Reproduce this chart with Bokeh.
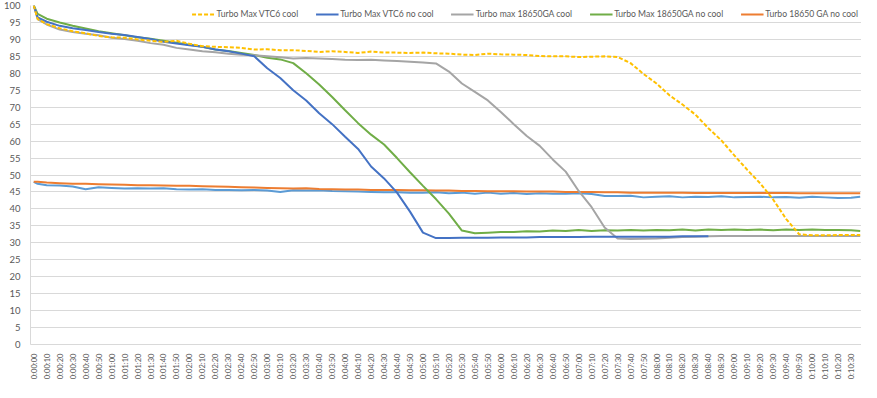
import math
from bokeh.plotting import figure
from bokeh.models import FixedTicker, Range1d, Legend, LegendItem
from bokeh.embed import file_html
from bokeh.resources import INLINE

nan = float("nan")

# elapsed time in seconds (category positions)
seconds = [0, 3] + list(range(10, 640, 10)) + [637]

# tick labels every 10 s
tick_seconds = list(range(0, 640, 10))
tick_labels = [f"0:{s // 60:02d}:{s % 60:02d}" for s in tick_seconds]

vtc6_cool = [100, 96.0,
             94.5, 93.3, 92.4, 91.8, 91.0, 90.6,
             90.5, 90.0, 89.6, 89.3, 89.6, 88.7,
             88.0, 87.8, 87.7, 87.5, 87.0, 87.1,
             86.8, 86.8, 86.6, 86.3, 86.5, 86.3,
             86.0, 86.4, 86.1, 86.1, 86.0, 86.1,
             85.9, 85.8, 85.5, 85.4, 85.8, 85.6,
             85.5, 85.4, 85.1, 85.0, 85.0, 84.8,
             84.9, 85.0, 84.8, 83.0, 79.8, 77.0,
             73.5, 70.8, 67.8, 63.8, 60.2, 55.8,
             51.5, 47.5, 42.7, 37.0, 32.5, 32.2,
             32.2, 32.3, 32.3, 32.3]

vtc6_no_cool = [100, 96.5,
                95.2, 94.0, 93.3, 92.8, 92.2, 91.7,
                91.3, 90.7, 90.1, 89.3, 88.8, 88.3,
                87.8, 87.0, 86.5, 85.8, 85.0, 81.5,
                78.6, 75.0, 72.0, 68.2, 65.0, 61.3,
                57.7, 52.5, 49.0, 44.8, 39.2, 33.0,
                31.4, 31.4, 31.5, 31.5, 31.5, 31.6,
                31.6, 31.6, 31.7, 31.7, 31.7, 31.7,
                31.8, 31.8, 31.8, 31.8, 31.8, 31.8,
                31.8, 31.9, 31.9, 31.9, nan, nan,
                nan, nan, nan, nan, nan, nan,
                nan, nan, nan, nan]

ga_cool = [100, 96.0,
           94.4, 92.9, 92.2, 91.7, 91.2, 90.5,
           90.1, 89.6, 88.9, 88.4, 87.5, 87.0,
           86.5, 86.2, 85.8, 85.5, 85.3, 85.0,
           84.7, 84.4, 84.5, 84.4, 84.2, 84.0,
           83.9, 84.0, 83.8, 83.6, 83.4, 83.2,
           82.9, 80.5, 77.0, 74.5, 72.0, 68.6,
           65.0, 61.5, 58.6, 54.6, 51.0, 45.3,
           40.5, 34.5, 31.3, 31.1, 31.2, 31.3,
           31.5, 31.7, 31.8, 31.9, 32.0, 32.0,
           32.0, 32.0, 32.0, 32.0, 32.0, 32.0,
           32.0, 32.0, 32.0, 32.0]

ga_no_cool = [100, 97.5,
              96.1, 95.0, 94.0, 93.2, 92.4, 91.8,
              91.2, 90.6, 90.2, 89.6, 89.0, 88.4,
              87.8, 87.0, 86.6, 86.0, 85.4, 84.6,
              84.1, 83.0, 80.0, 76.7, 73.0, 69.1,
              65.3, 61.9, 59.0, 55.0, 50.8, 46.8,
              42.9, 38.6, 33.6, 32.8, 33.0, 33.2,
              33.2, 33.4, 33.3, 33.6, 33.5, 33.8,
              33.5, 33.7, 33.6, 33.8, 33.6, 33.8,
              33.7, 33.9, 33.6, 33.9, 33.8, 33.9,
              33.8, 33.9, 33.7, 33.9, 33.8, 33.9,
              33.8, 33.8, 33.7, 33.5]

turbo_ga_no_cool = [48.0, 48.0,
                    47.8, 47.6, 47.4, 47.4, 47.3, 47.2,
                    47.1, 47.0, 47.0, 46.9, 46.8, 46.8,
                    46.7, 46.6, 46.5, 46.4, 46.3, 46.2,
                    46.1, 46.0, 46.1, 45.9, 45.8, 45.7,
                    45.7, 45.6, 45.6, 45.6, 45.5, 45.5,
                    45.4, 45.4, 45.3, 45.3, 45.2, 45.2,
                    45.2, 45.1, 45.1, 45.1, 45.0, 45.0,
                    45.0, 44.9, 44.9, 44.8, 44.8, 44.8,
                    44.8, 44.8, 44.7, 44.7, 44.7, 44.7,
                    44.7, 44.7, 44.7, 44.7, 44.6, 44.6,
                    44.6, 44.6, 44.6, 44.6]

unlabeled_series = [48.0, 47.4,
                    47.0, 46.9, 46.6, 45.8, 46.4, 46.2,
                    46.0, 46.1, 46.0, 46.1, 45.8, 45.7,
                    45.8, 45.6, 45.6, 45.5, 45.6, 45.4,
                    45.0, 45.5, 45.4, 45.5, 45.3, 45.2,
                    45.1, 45.0, 44.9, 44.9, 44.8, 44.8,
                    44.9, 44.6, 44.8, 44.5, 44.8, 44.5,
                    44.7, 44.4, 44.6, 44.5, 44.5, 44.6,
                    44.4, 43.8, 43.8, 43.9, 43.4, 43.6,
                    43.7, 43.4, 43.6, 43.5, 43.7, 43.4,
                    43.5, 43.6, 43.4, 43.5, 43.3, 43.6,
                    43.4, 43.2, 43.3, 43.6]

FONT = "Lato"
TXT = "#595959"

p = figure(width=861, height=382, output_backend="svg", toolbar_location=None,
           x_range=Range1d(-2.5, 638), y_range=Range1d(0, 100),
           min_border_left=2, min_border_right=0, min_border_top=5, min_border_bottom=0)
p.background_fill_color = "white"
p.outline_line_color = None
p.xgrid.visible = False
p.ygrid.grid_line_color = "#D9D9D9"
p.ygrid.grid_line_width = 1

p.yaxis.ticker = FixedTicker(ticks=list(range(0, 101, 5)))
p.xaxis.ticker = FixedTicker(ticks=tick_seconds)
p.xaxis.major_label_overrides = {s: l for s, l in zip(tick_seconds, tick_labels)}
p.xaxis.major_label_orientation = math.pi / 2
for ax in (p.xaxis, p.yaxis):
    ax.major_tick_line_color = None
    ax.minor_tick_line_color = None
    ax.axis_line_color = "#D9D9D9"
    ax.major_label_text_font = FONT
    ax.major_label_text_color = TXT
p.yaxis.major_label_text_font_size = "9.5px"
p.yaxis.major_label_standoff = 4
p.xaxis.major_label_text_font_size = "7.6px"
p.xaxis.major_label_standoff = 3

r_lb = p.line(seconds, unlabeled_series, line_color="#5B9BD5", line_width=2)
r_or = p.line(seconds, turbo_ga_no_cool, line_color="#ED7D31", line_width=2)
r_gr = p.line(seconds, ga_no_cool, line_color="#70AD47", line_width=2)
r_gy = p.line(seconds, ga_cool, line_color="#A5A5A5", line_width=2)
r_bl = p.line(seconds, vtc6_no_cool, line_color="#4472C4", line_width=2)
r_ye = p.line(seconds, vtc6_cool, line_color="#FFC000", line_width=2, line_dash="4 2")

legend = Legend(items=[
    LegendItem(label="Turbo Max VTC6 cool", renderers=[r_ye]),
    LegendItem(label="Turbo Max VTC6 no cool", renderers=[r_bl]),
    LegendItem(label="Turbo max 18650GA cool", renderers=[r_gy]),
    LegendItem(label="Turbo Max 18650GA no cool", renderers=[r_gr]),
    LegendItem(label="Turbo 18650 GA no cool", renderers=[r_or]),
], orientation="horizontal", location="top_right")
legend.label_text_font = FONT
legend.label_text_font_size = "8.6px"
legend.label_text_color = TXT
legend.glyph_width = 23
legend.glyph_height = 12
legend.label_standoff = 2
legend.spacing = 17
legend.padding = 2
legend.margin = 3
legend.border_line_color = None
legend.background_fill_color = "white"
legend.background_fill_alpha = 1.0
p.add_layout(legend, "center")

open("out.html", "w").write(file_html(p, INLINE))
